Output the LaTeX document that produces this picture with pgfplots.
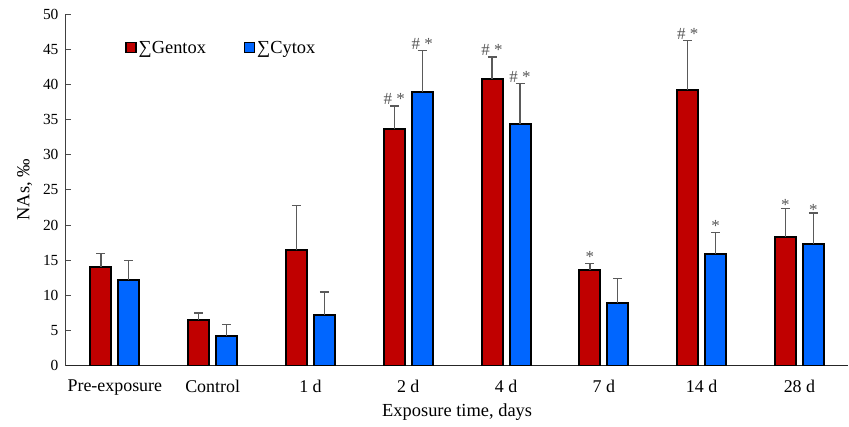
\documentclass[border=0pt]{standalone}
\usepackage{fontspec}
\setmainfont{Liberation Serif}
\usepackage{pgfplots}
\usepackage{pgfplotstable}
\pgfplotsset{compat=1.18}
\definecolor{gred}{HTML}{C00000}
\definecolor{cblue}{HTML}{0066FF}
\definecolor{errgray}{HTML}{5A5A5A}
\pgfplotstableread{
x y e
0 14.1 1.85
1 6.5 1.0
2 16.4 6.4
3 33.6 3.3
4 40.8 3.1
5 13.6 0.9
6 39.2 7.0
7 18.3 4.1
}\gentox
\pgfplotstableread{
x y e
0 12.2 2.8
1 4.25 1.65
2 7.25 3.25
3 38.9 5.9
4 34.3 5.8
5 8.9 3.5
6 15.95 2.95
7 17.3 4.4
}\cytox
\begin{document}
\begin{tikzpicture}
\begin{axis}[
  scale only axis,
  width=783bp, height=352bp,
  xmin=-0.5, xmax=7.5,
  ymin=0, ymax=50,
  ytick={0,5,...,50},
  xtick={0,...,7},
  xticklabels={Pre-exposure,Control,1 d,2 d,4 d,7 d,14 d,28 d},
  axis x line=bottom, axis y line=left,
  axis line style={-, line width=1pt, draw=black!75},
  x axis line style={line width=1.3pt, draw=black!85},
  tick align=inside,
  ytick style={line width=0.8pt, draw=black!70},
  major tick length=5bp,
  xtick style={draw=none},
  /pgf/number format/assume math mode=true,
  yticklabel style={font=\fontsize{15.5}{17}\selectfont, xshift=-4bp},
  xticklabel style={font=\fontsize{18}{20}\selectfont, yshift=-6bp},
  xlabel={Exposure time, days},
  ylabel={NAs, ‰},
  xlabel style={font=\fontsize{18.5}{20}\selectfont, yshift=-1bp},
  ylabel style={font=\fontsize{18.5}{20}\selectfont, yshift=4bp},
  ybar, bar width=21bp,
  legend style={at={(0.072,0.935)}, anchor=north west, draw=none, fill=none,
    legend columns=2, font=\fontsize{18.5}{20}\selectfont,
    /tikz/every even column/.append style={column sep=36bp},
    legend cell align=left},
  legend image code/.code={\draw[#1, line width=1.2pt, draw=black] (0bp,-5bp) rectangle (10bp,5bp);},
]
\addplot[fill=gred, draw=black, line width=2pt, bar shift=-14bp,
  error bars/.cd, y dir=plus, y explicit,
  error bar style={line width=1.3pt, draw=errgray},
  error mark options={rotate=90, mark size=4.5bp, line width=1.3pt, draw=errgray}]
  table[x=x, y=y, y error=e] {\gentox};
\addlegendentry{∑Gentox}
\addplot[fill=cblue, draw=black, line width=2pt, bar shift=14bp,
  error bars/.cd, y dir=plus, y explicit,
  error bar style={line width=1.3pt, draw=errgray},
  error mark options={rotate=90, mark size=4.5bp, line width=1.3pt, draw=errgray}]
  table[x=x, y=y, y error=e] {\cytox};
\addlegendentry{∑Cytox}
\begin{scope}[every node/.style={anchor=south, text=black!65, font=\fontsize{17}{19}\selectfont, inner sep=1bp}]
\node at (axis cs:2.857,36.9) {\# *};
\node at (axis cs:3.143,44.8) {\# *};
\node at (axis cs:3.857,43.9) {\# *};
\node at (axis cs:4.143,40.1) {\# *};
\node at (axis cs:4.857,14.5) {*};
\node at (axis cs:5.857,46.2) {\# *};
\node at (axis cs:6.143,18.9) {*};
\node at (axis cs:6.857,21.9) {*};
\node at (axis cs:7.143,21.2) {*};
\end{scope}
\end{axis}
\path ([xshift=-66bp,yshift=-61bp]current axis.south west) rectangle ([yshift=14bp]current axis.north east);
\end{tikzpicture}
\end{document}
